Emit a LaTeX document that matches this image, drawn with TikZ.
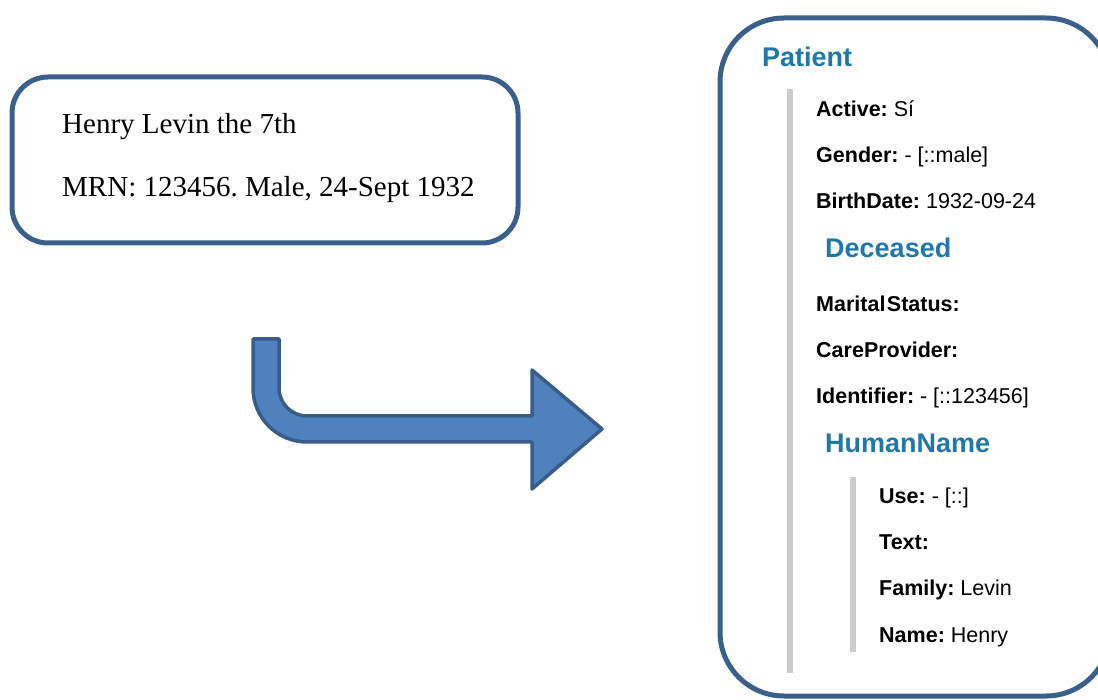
\documentclass[tikz,border=0pt]{standalone}
\usepackage{fontspec}
\setmainfont{Liberation Serif}
\newfontfamily\arialfont{Liberation Sans}
\frenchspacing
\definecolor{frameblue}{HTML}{3A5F8B}
\definecolor{arrowfill}{HTML}{4F81BD}
\definecolor{arrowline}{HTML}{385D8A}
\definecolor{headblue}{HTML}{1F78A8}
\definecolor{barcol}{HTML}{CCCCCC}
\tikzset{
  frame/.style={draw=frameblue, line width=5pt},
  sourcetext/.style={anchor=base west, inner sep=0pt, font=\fontsize{29}{33}\selectfont},
  fieldtext/.style={anchor=base west, inner sep=0pt, font=\arialfont\fontsize{21.5}{25}\selectfont},
  headtext/.style={anchor=base west, inner sep=0pt, text=headblue, font=\arialfont\bfseries\fontsize{27}{31}\selectfont},
  treebar/.style={fill=barcol, draw=none},
  bigarrow/.style={fill=arrowfill, draw=arrowline, line width=3.5pt, line join=round}
}
\begin{document}
\begin{tikzpicture}[x=1pt,y=-1pt]
\useasboundingbox (0,0) rectangle (1098,700);
\clip (0,0) rectangle (1098,700);

% source record card
\draw[frame, rounded corners=36pt] (12,77) rectangle (518,243);
\node[sourcetext] (name) at (62,134) {Henry Levin the 7th};
\node[sourcetext] (mrn) at (62,197) {MRN: 123456. Male, 24-Sept 1932};

% bent conversion arrow
\draw[bigarrow] (253,339) -- (279,339) -- (279,388)
  arc[start angle=180, end angle=90, radius=28]
  -- (532,416) -- (532,370) -- (602,429) -- (532,489) -- (532,442)
  -- (307,442)
  arc[start angle=90, end angle=180, radius=54]
  -- cycle;

% resource card
\draw[frame, rounded corners=64pt] (720,18) rectangle (1110,696);

% tree guides
\fill[treebar] (787,89) rectangle (793,673);
\fill[treebar] (850,477) rectangle (856,652);

\node[headtext] (patient) at (762,67) {Patient};
\node[fieldtext] (active) at (816,117) {\textbf{Active:} Sí};
\node[fieldtext] (gender) at (816,163) {\textbf{Gender:} - [::male]};
\node[fieldtext] (birth) at (816,209) {\textbf{BirthDate:} 1932-09-24};
\node[headtext] (deceased) at (825,258) {Deceased};
\node[fieldtext] (marital) at (816,312) {\textbf{Marital\kern1.5ptStatus:}};
\node[fieldtext] (care) at (816,358) {\textbf{CareProvider:}};
\node[fieldtext] (ident) at (816,404) {\textbf{Identifier:} - [::123456]};
\node[headtext] (human) at (825,453) {HumanName};
\node[fieldtext] (use) at (879,503) {\textbf{Use:} - [::]};
\node[fieldtext] (text) at (879,549) {\textbf{Text:}};
\node[fieldtext] (family) at (879,595) {\textbf{Family:} Levin};
\node[fieldtext] (given) at (879,642) {\textbf{Name:} Henry};
\end{tikzpicture}
\end{document}
